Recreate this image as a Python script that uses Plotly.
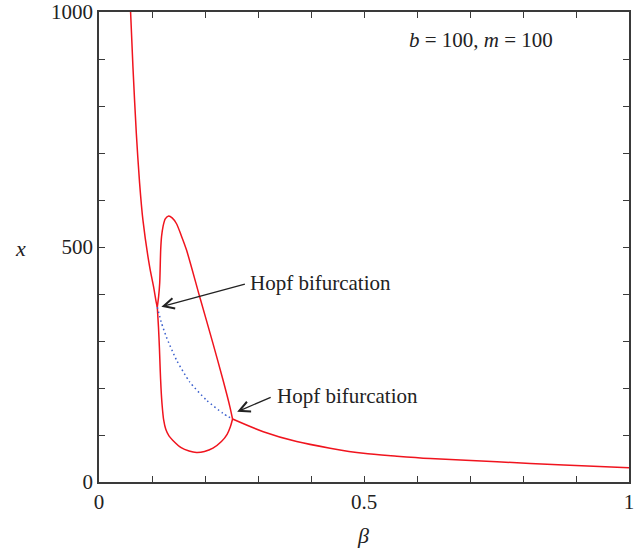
import plotly.graph_objects as go

# Stable equilibrium, upper branch (beta, x)
eq_upper_beta = [0.0596, 0.064, 0.0704, 0.0766, 0.0829, 0.0955, 0.103, 0.108, 0.110]
eq_upper_x = [1000, 884, 742, 636, 557, 458, 415, 382, 372]

# Unstable equilibrium between Hopf points
eq_unstable_beta = [0.110, 0.118, 0.127, 0.146, 0.171, 0.203, 0.234, 0.252]
eq_unstable_x = [372, 338, 309, 260, 213, 174, 146, 134]

# Stable equilibrium, lower branch
eq_lower_beta = [0.252, 0.31, 0.373, 0.436, 0.499, 0.562, 0.625, 0.751, 0.877, 1.0]
eq_lower_x = [134, 107, 86, 72, 61, 55, 50, 43, 36, 30.5]

# Limit cycle maximum
cyc_max_beta = [0.110, 0.1125, 0.1145, 0.1164, 0.1180, 0.1207, 0.125, 0.1315, 0.138, 0.146,
                0.155, 0.165, 0.190, 0.215, 0.234, 0.247, 0.252]
cyc_max_x = [372, 395, 423, 494, 522, 543, 560, 566, 562, 550,
             525, 494, 394, 295, 217, 160, 134]

# Limit cycle minimum
cyc_min_beta = [0.110, 0.1122, 0.1140, 0.1155, 0.117, 0.119, 0.122, 0.126, 0.132, 0.139,
                0.155, 0.170, 0.184, 0.199, 0.215, 0.231, 0.242, 0.248, 0.252]
cyc_min_x = [372, 330, 285, 238, 200, 165, 132, 112, 98, 89,
             73, 66, 63, 65, 72, 86, 102, 118, 134]

x_tick_vals = [i / 10 for i in range(11)]
x_tick_text = ["0", "", "", "", "", "0.5", "", "", "", "", "1"]
y_tick_vals = list(range(0, 1001, 100))
y_tick_text = ["0", "", "", "", "", "500", "", "", "", "", "1000"]

RED = "#f0141e"
FONT = "Liberation Serif"
INK = "#222222"

fig = go.Figure()
for bx, yx in [(eq_upper_beta, eq_upper_x), (cyc_max_beta, cyc_max_x),
               (cyc_min_beta, cyc_min_x), (eq_lower_beta, eq_lower_x)]:
    fig.add_trace(go.Scatter(x=bx, y=yx, mode="lines",
                             line=dict(color=RED, width=1.5, shape="spline", smoothing=0.8),
                             showlegend=False, hoverinfo="skip"))
fig.add_trace(go.Scatter(x=eq_unstable_beta, y=eq_unstable_x, mode="lines",
                         line=dict(color="#3a5fcd", width=1.5, dash="1.5px,3px",
                                   shape="spline", smoothing=0.6),
                         showlegend=False, hoverinfo="skip"))

axis_common = dict(showgrid=False, zeroline=False, showline=True, linecolor="#3a3a3a",
                   linewidth=1.5, mirror="ticks", ticks="inside", ticklen=6,
                   tickwidth=1.2, tickcolor="#3a3a3a", automargin=False,
                   tickfont=dict(family=FONT, size=21, color=INK))

fig.update_xaxes(range=[0, 1], tickmode="array", tickvals=x_tick_vals, ticktext=x_tick_text,
                 **axis_common)
fig.update_yaxes(range=[0, 1000], tickmode="array", tickvals=y_tick_vals, ticktext=y_tick_text,
                 **axis_common)

pw, ph = 643 - 99 - 14, 549 - 12 - 67

fig.update_layout(
    width=643, height=549,
    margin=dict(l=99, r=14, t=12, b=67),
    plot_bgcolor="white", paper_bgcolor="white",
    font=dict(family=FONT, size=21, color=INK),
    annotations=[
        dict(x=0.1177, y=373, xref="x", yref="y", ax=85, ay=-23,
             text="", showarrow=True, arrowhead=5, arrowsize=1.6, arrowwidth=1.3,
             arrowcolor=INK),
        dict(x=0.281, y=423, xref="x", yref="y", text="Hopf bifurcation",
             showarrow=False, xanchor="left", yanchor="middle",
             font=dict(family=FONT, size=21, color=INK)),
        dict(x=0.2607, y=149.6, xref="x", yref="y", ax=35, ay=-15,
             text="", showarrow=True, arrowhead=5, arrowsize=1.6, arrowwidth=1.3,
             arrowcolor=INK),
        dict(x=0.332, y=183, xref="x", yref="y", text="Hopf bifurcation",
             showarrow=False, xanchor="left", yanchor="middle",
             font=dict(family=FONT, size=21, color=INK)),
        dict(x=0.582, y=940, xref="x", yref="y",
             text="<i>b</i> = 100, <i>m</i> = 100",
             showarrow=False, xanchor="left", yanchor="middle",
             font=dict(family=FONT, size=21, color=INK)),
        dict(x=(20.7 - 99) / pw, y=(482 - 248) / ph, xref="paper", yref="paper", text="<i>x</i>",
             showarrow=False, xanchor="center", yanchor="middle",
             font=dict(family=FONT, size=22, color=INK)),
        dict(x=(363.3 - 99) / pw, y=(482 - 535) / ph, xref="paper", yref="paper", text="<i>β</i>",
             showarrow=False, xanchor="center", yanchor="middle",
             font=dict(family=FONT, size=22, color=INK)),
    ],
)
fig.write_html("out.html")
